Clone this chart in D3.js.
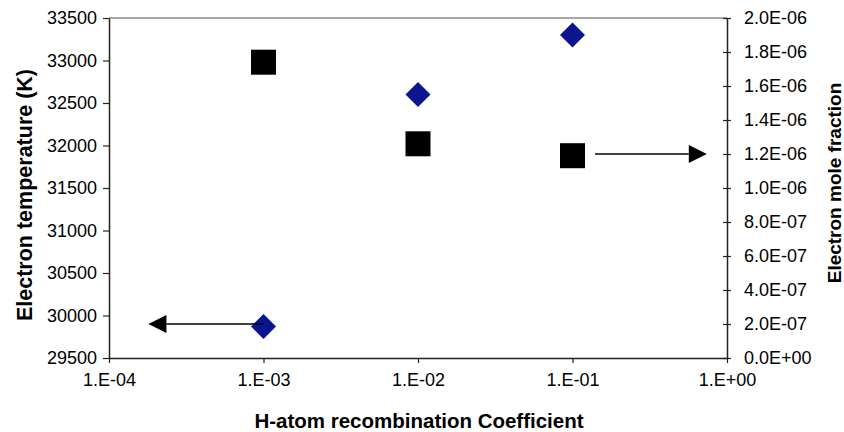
<!DOCTYPE html>
<html>
<head>
<meta charset="utf-8">
<script src="https://cdn.jsdelivr.net/npm/d3@7"></script>
<style>
  body { margin: 0; background: #fff; }
  text { font-family: "Liberation Sans", Arial, sans-serif; fill: #000; }
</style>
</head>
<body>
<div id="chart"></div>
<script>
// data
var coeff = [1e-3, 1e-2, 1e-1];
var temperature = [29870, 32600, 33300];
var moleFraction = [1.74e-6, 1.26e-6, 1.19e-6];
var xTicks = [1e-4, 1e-3, 1e-2, 1e-1, 1];
var xTickLabels = ["1.E-04", "1.E-03", "1.E-02", "1.E-01", "1.E+00"];
var yLeftTicks = [29500, 30000, 30500, 31000, 31500, 32000, 32500, 33000, 33500];
var yRightTicks = [0, 2e-7, 4e-7, 6e-7, 8e-7, 1e-6, 1.2e-6, 1.4e-6, 1.6e-6, 1.8e-6, 2e-6];
// arrow annotations: [x0, x1, y] in data units
var arrowLeft = [1e-3, 1.8e-4, 29900];     // temperature axis
var arrowRight = [0.14, 0.74, 1.2e-6];     // mole fraction axis

var W = 844, H = 432;
var margin = {top: 18, right: 117, bottom: 74, left: 109},
    width = W - margin.left - margin.right,
    height = H - margin.top - margin.bottom;

var svg = d3.select("#chart").append("svg")
    .attr("width", W)
    .attr("height", H)
  .append("g")
    .attr("transform", "translate(" + margin.left + "," + margin.top + ")");

var x = d3.scaleLog().domain([1e-4, 1]).range([0, width]);
var yL = d3.scaleLinear().domain([29500, 33500]).range([height, 0]);
var yR = d3.scaleLinear().domain([0, 2e-6]).range([height, 0]);

// top border
svg.append("line")
  .attr("x1", 0).attr("x2", width).attr("y1", 0).attr("y2", 0)
  .attr("stroke", "#8a8a8a").attr("stroke-width", 1.5);

// bottom axis
var gx = svg.append("g")
  .attr("transform", "translate(0," + height + ")")
  .call(d3.axisBottom(x).tickValues(xTicks)
        .tickFormat(function(d, i) { return xTickLabels[i]; })
        .tickSize(5).tickSizeOuter(0).tickPadding(10));

// left axis
var gl = svg.append("g")
  .call(d3.axisLeft(yL).tickValues(yLeftTicks).tickFormat(d3.format("d"))
        .tickSize(6).tickSizeOuter(0).tickPadding(6));

// right axis
var gr = svg.append("g")
  .attr("transform", "translate(" + width + ",0)")
  .call(d3.axisRight(yR).tickValues(yRightTicks)
        .tickFormat(function(d) {
          var s = d.toExponential(1).toUpperCase();
          return s.replace(/E([+-])(\d)$/, "E$10$2");
        })
        .tickSize(4).tickSizeOuter(0).tickPadding(13));
gr.selectAll(".tick line").attr("x1", -4);

[gx, gl, gr].forEach(function(g) {
  g.select(".domain").attr("stroke", "#222").attr("stroke-width", 1.5);
  g.selectAll(".tick line").attr("stroke", "#222").attr("stroke-width", 1.2);
  g.selectAll(".tick text").style("font-size", "18px")
    .style("font-family", "'Liberation Sans', Arial, sans-serif").attr("fill", "#000");
});

// temperature series (diamonds)
svg.selectAll(".dia").data(coeff).enter().append("path")
  .attr("class", "dia")
  .attr("transform", function(d, i) { return "translate(" + x(d) + "," + yL(temperature[i]) + ")"; })
  .attr("d", "M0,-12.5L12.5,0L0,12.5L-12.5,0Z")
  .attr("fill", "#0a168f");

// mole fraction series (squares)
svg.selectAll(".sq").data(coeff).enter().append("rect")
  .attr("class", "sq")
  .attr("x", function(d) { return x(d) - 12.5; })
  .attr("y", function(d, i) { return yR(moleFraction[i]) - 12.5; })
  .attr("width", 25).attr("height", 25)
  .attr("fill", "#000");

// arrows
function arrow(x0, x1, y) {
  var dir = x1 > x0 ? 1 : -1;
  var hl = 18, hw = 9;
  svg.append("line")
    .attr("x1", x0).attr("x2", x1 - dir * hl)
    .attr("y1", y).attr("y2", y)
    .attr("stroke", "#000").attr("stroke-width", 1.5);
  svg.append("path")
    .attr("d", "M" + x1 + "," + y + "L" + (x1 - dir * hl) + "," + (y - hw) +
               "L" + (x1 - dir * hl) + "," + (y + hw) + "Z")
    .attr("fill", "#000");
}
arrow(x(arrowLeft[0]), x(arrowLeft[1]), yL(arrowLeft[2]));
arrow(x(arrowRight[0]), x(arrowRight[1]), yR(arrowRight[2]));

// axis titles
svg.append("text")
  .attr("x", width / 2 + 1).attr("y", height + 70)
  .attr("text-anchor", "middle")
  .style("font-size", "20.5px").style("font-weight", "bold")
  .text("H-atom recombination Coefficient");

svg.append("text")
  .attr("transform", "translate(" + (-77) + "," + (height / 2 + 7) + ") rotate(-90)")
  .attr("text-anchor", "middle")
  .style("font-size", "21.5px").style("font-weight", "bold")
  .text("Electron temperature (K)");

svg.append("text")
  .attr("transform", "translate(" + (width + 114) + "," + (height / 2 - 5) + ") rotate(-90)")
  .attr("text-anchor", "middle")
  .style("font-size", "19px").style("font-weight", "bold")
  .text("Electron mole fraction");
</script>
</body>
</html>
